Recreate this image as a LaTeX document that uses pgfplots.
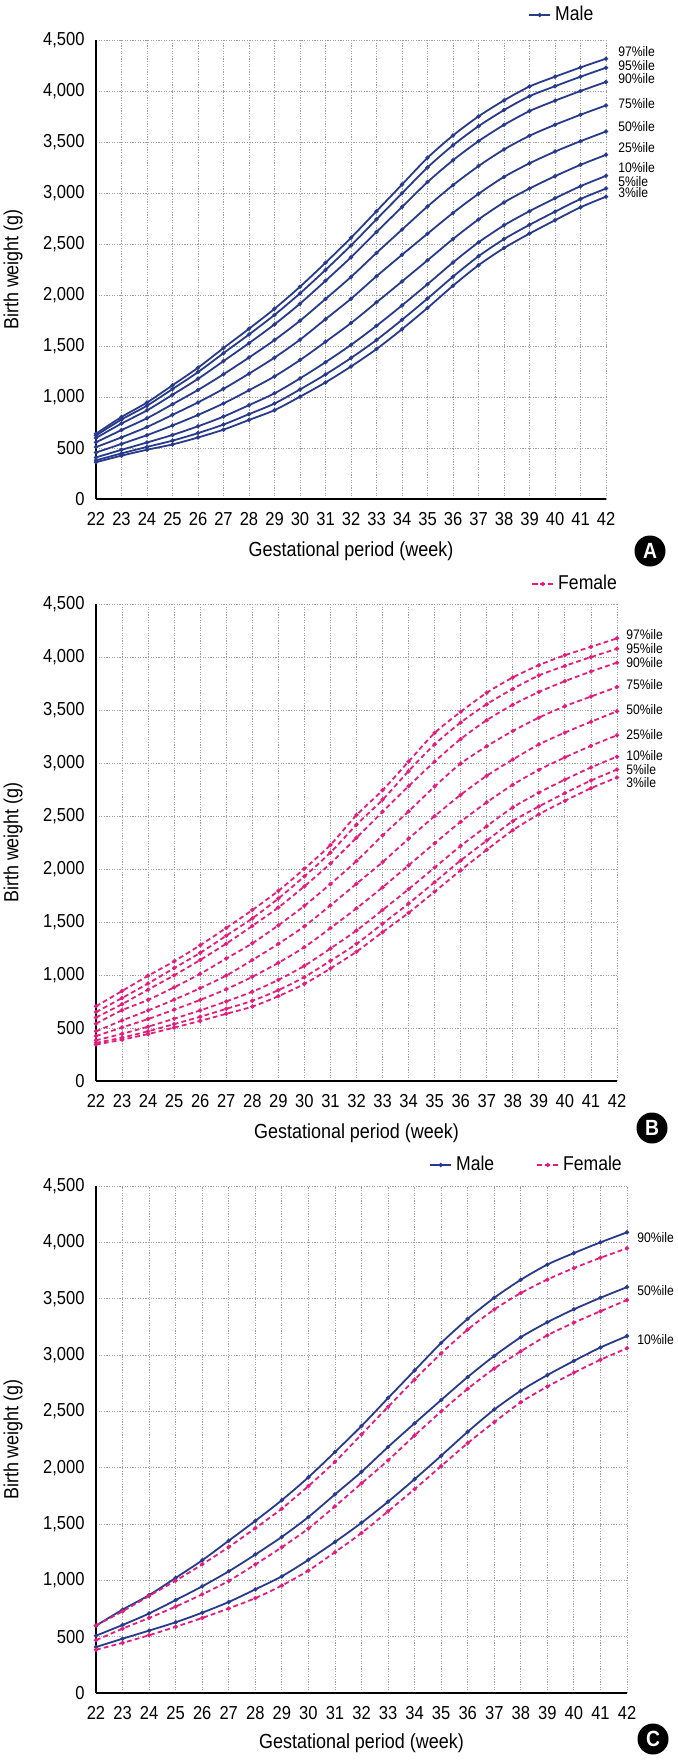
\documentclass[border=0pt]{standalone}
\usepackage{pgfplots}
\usepackage{pgfplotstable}
\pgfplotsset{compat=1.18}
\usepackage{fontspec}
\setmainfont{Liberation Sans}[FakeStretch=0.88]
\definecolor{male}{RGB}{40,58,140}
\definecolor{female}{RGB}{228,28,124}
\definecolor{gridc}{RGB}{160,160,160}

\pgfplotstableread{
w p3 p5 p10 p25 p50 p75 p90 p95 p97
22 361 379 408 456 509 556 598 623 640
23 425 447 482 540 604 676 740 779 804
24 483 511 554 626 706 792 869 915 946
25 535 572 628 721 825 929 1022 1078 1115
26 603 646 713 824 947 1069 1178 1244 1287
27 680 730 808 937 1080 1223 1352 1430 1480
28 775 832 920 1066 1229 1387 1528 1613 1669
29 871 936 1036 1202 1386 1558 1712 1805 1865
30 1003 1074 1182 1362 1562 1748 1915 2016 2081
31 1143 1221 1341 1541 1763 1961 2139 2246 2316
32 1299 1382 1511 1725 1963 2177 2370 2486 2561
33 1470 1559 1698 1928 2184 2413 2618 2742 2822
34 1665 1757 1898 2133 2394 2641 2863 2997 3083
35 1873 1965 2106 2340 2601 2868 3107 3251 3345
36 2091 2180 2319 2549 2805 3077 3321 3468 3564
37 2292 2380 2516 2741 2992 3264 3508 3655 3751
38 2460 2548 2683 2908 3158 3427 3668 3813 3908
39 2602 2688 2822 3044 3291 3561 3803 3949 4044
40 2733 2817 2948 3165 3406 3669 3905 4047 4140
41 2860 2941 3067 3276 3508 3767 4000 4140 4231
42 2964 3044 3168 3374 3603 3859 4089 4228 4317
}\maletable

\pgfplotstableread{
w p3 p5 p10 p25 p50 p75 p90 p95 p97
22 344 360 384 424 469 541 600 650 705
23 390 409 445 505 571 668 725 783 849
24 443 469 513 585 666 765 862 920 993
25 504 537 588 673 767 884 997 1065 1130
26 567 606 666 765 876 1011 1142 1209 1281
27 634 681 751 866 995 1155 1296 1371 1444
28 702 757 842 983 1141 1299 1463 1534 1613
29 800 857 954 1115 1294 1469 1637 1722 1794
30 916 981 1087 1263 1460 1653 1837 1931 2003
31 1062 1134 1250 1443 1657 1859 2052 2155 2227
32 1220 1294 1420 1629 1861 2075 2295 2418 2509
33 1404 1484 1613 1827 2065 2317 2540 2653 2743
34 1587 1674 1810 2035 2286 2544 2782 2924 3014
35 1786 1876 2014 2243 2499 2779 3014 3176 3284
36 1988 2081 2218 2446 2700 2995 3226 3382 3483
37 2181 2268 2404 2629 2880 3158 3404 3555 3663
38 2366 2452 2581 2795 3033 3302 3550 3699 3807
39 2516 2590 2720 2935 3175 3428 3670 3826 3923
40 2643 2716 2843 3053 3287 3536 3772 3916 4017
41 2762 2835 2958 3162 3389 3627 3863 3999 4096
42 2864 2938 3060 3262 3488 3717 3947 4078 4176
}\femaletable

\tikzset{
  plab/.style={anchor=west, inner sep=0pt, font=\fontsize{6.9}{7}\selectfont},
  letter/.style={circle, fill=black, minimum size=15.5pt, inner sep=0pt, text=white, font=\bfseries\fontsize{11}{11}\selectfont},
}

\pgfplotsset{
  panel/.style={
    scale only axis,
    xmin=22, xmax=42, ymin=0, ymax=4500,
    xtick={22,...,42},
    ytick={0,500,...,4500},
    yticklabels={0,500,{1,000},{1,500},{2,000},{2,500},{3,000},{3,500},{4,000},{4,500}},
    /pgf/number format/assume math mode=true,
    axis x line*=bottom, axis y line*=left,
    axis line style={black, line width=0.8pt, -},
    grid=major,
    major grid style={gridc, line width=0.45pt, dash pattern=on 0.6pt off 0.7pt},
    major tick length=0pt,
    ticklabel style={font=\fontsize{9.4}{10}\selectfont},
    yticklabel style={anchor=east, inner sep=0pt, xshift=-5.5pt},
    xticklabel style={anchor=north, inner sep=0pt, yshift=-6.5pt},
    xlabel={Gestational period (week)},
    ylabel={Birth weight (g)},
    label style={font=\fontsize{10.2}{12}\selectfont},
    ylabel style={at={([xshift=-41.5pt]axis description cs:0,0.5)}, anchor=center},
    clip=false,
    legend cell align=left,
    legend image code/.code={\draw[##1, mark repeat=2, mark phase=2] plot coordinates {(0pt,0pt)(5.25pt,0pt)(10.5pt,0pt)};},
  },
  mline/.style={male, line width=0.9pt, smooth, tension=0.45, mark=*, mark size=0.55pt, mark options={solid, fill=male}},
  fline/.style={female, line width=0.9pt, smooth, tension=0.45, dash pattern=on 2.4pt off 1.6pt, mark=*, mark size=0.55pt, mark options={solid, fill=female}},
}

\begin{document}
\begin{tikzpicture}
\useasboundingbox (0,0) rectangle (339pt,-880pt);

% ---------------- Panel A ----------------
\begin{axis}[panel,
  at={(48pt,-249.5pt)}, anchor=south west,
  width=255pt, height=229.5pt,
  xlabel style={at={([yshift=-26pt]axis description cs:0.5,0)}, anchor=center},
  legend style={at={([yshift=12.5pt]axis description cs:0.847,1)}, anchor=west,
    draw=none, fill=none, inner sep=0pt, font=\fontsize{10}{12}\selectfont},
]
\addplot[mline] table[x=w,y=p97] {\maletable};
\addlegendentry{Male}
\addplot[mline, forget plot] table[x=w,y=p95] {\maletable};
\addplot[mline, forget plot] table[x=w,y=p90] {\maletable};
\addplot[mline, forget plot] table[x=w,y=p75] {\maletable};
\addplot[mline, forget plot] table[x=w,y=p50] {\maletable};
\addplot[mline, forget plot] table[x=w,y=p25] {\maletable};
\addplot[mline, forget plot] table[x=w,y=p10] {\maletable};
\addplot[mline, forget plot] table[x=w,y=p5] {\maletable};
\addplot[mline, forget plot] table[x=w,y=p3] {\maletable};
\node[plab, xshift=6pt] at (axis cs:42,4382) {97\%ile};
\node[plab, xshift=6pt] at (axis cs:42,4245) {95\%ile};
\node[plab, xshift=6pt] at (axis cs:42,4118) {90\%ile};
\node[plab, xshift=6pt] at (axis cs:42,3873) {75\%ile};
\node[plab, xshift=6pt] at (axis cs:42,3647) {50\%ile};
\node[plab, xshift=6pt] at (axis cs:42,3441) {25\%ile};
\node[plab, xshift=6pt] at (axis cs:42,3245) {10\%ile};
\node[plab, xshift=6pt] at (axis cs:42,3108) {5\%ile};
\node[plab, xshift=6pt] at (axis cs:42,3000) {3\%ile};
\end{axis}

% ---------------- Panel B ----------------
\begin{axis}[panel,
  at={(48pt,-540.5pt)}, anchor=south west,
  width=260.5pt, height=238.5pt,
  xlabel style={at={([yshift=-26pt]axis description cs:0.5,0)}, anchor=center},
  legend style={at={([yshift=10pt]axis description cs:0.835,1)}, anchor=west,
    draw=none, fill=none, inner sep=0pt, font=\fontsize{10}{12}\selectfont},
]
\addplot[fline] table[x=w,y=p97] {\femaletable};
\addlegendentry{Female}
\addplot[fline, forget plot] table[x=w,y=p95] {\femaletable};
\addplot[fline, forget plot] table[x=w,y=p90] {\femaletable};
\addplot[fline, forget plot] table[x=w,y=p75] {\femaletable};
\addplot[fline, forget plot] table[x=w,y=p50] {\femaletable};
\addplot[fline, forget plot] table[x=w,y=p25] {\femaletable};
\addplot[fline, forget plot] table[x=w,y=p10] {\femaletable};
\addplot[fline, forget plot] table[x=w,y=p5] {\femaletable};
\addplot[fline, forget plot] table[x=w,y=p3] {\femaletable};
\node[plab, xshift=4.5pt] at (axis cs:42,4212) {97\%ile};
\node[plab, xshift=4.5pt] at (axis cs:42,4082) {95\%ile};
\node[plab, xshift=4.5pt] at (axis cs:42,3952) {90\%ile};
\node[plab, xshift=4.5pt] at (axis cs:42,3743) {75\%ile};
\node[plab, xshift=4.5pt] at (axis cs:42,3505) {50\%ile};
\node[plab, xshift=4.5pt] at (axis cs:42,3267) {25\%ile};
\node[plab, xshift=4.5pt] at (axis cs:42,3072) {10\%ile};
\node[plab, xshift=4.5pt] at (axis cs:42,2942) {5\%ile};
\node[plab, xshift=4.5pt] at (axis cs:42,2816) {3\%ile};
\end{axis}

% ---------------- Panel C ----------------
\begin{axis}[panel,
  at={(48pt,-846.5pt)}, anchor=south west,
  width=265.5pt, height=253.5pt,
  xlabel style={at={([yshift=-25pt]axis description cs:0.5,0)}, anchor=center},
  legend columns=2,
  legend style={at={([yshift=10.5pt]axis description cs:0.627,1)}, anchor=west,
    draw=none, fill=none, inner sep=0pt, font=\fontsize{10}{12}\selectfont,
    /tikz/every even column/.append style={column sep=19pt}},
]
\addplot[mline] table[x=w,y=p90] {\maletable};
\addlegendentry{Male}
\addplot[fline] table[x=w,y=p90] {\femaletable};
\addlegendentry{Female}
\addplot[mline, forget plot] table[x=w,y=p50] {\maletable};
\addplot[mline, forget plot] table[x=w,y=p10] {\maletable};
\addplot[fline, forget plot] table[x=w,y=p50] {\femaletable};
\addplot[fline, forget plot] table[x=w,y=p10] {\femaletable};
\node[plab, xshift=5pt] at (axis cs:42,4041) {90\%ile};
\node[plab, xshift=5pt] at (axis cs:42,3576) {50\%ile};
\node[plab, xshift=5pt] at (axis cs:42,3134) {10\%ile};
\end{axis}

% panel letters
\node[letter] at (325pt,-275.5pt) {A};
\node[letter] at (326pt,-564pt) {B};
\node[letter] at (326.5pt,-869.5pt) {C};
\end{tikzpicture}
\end{document}
